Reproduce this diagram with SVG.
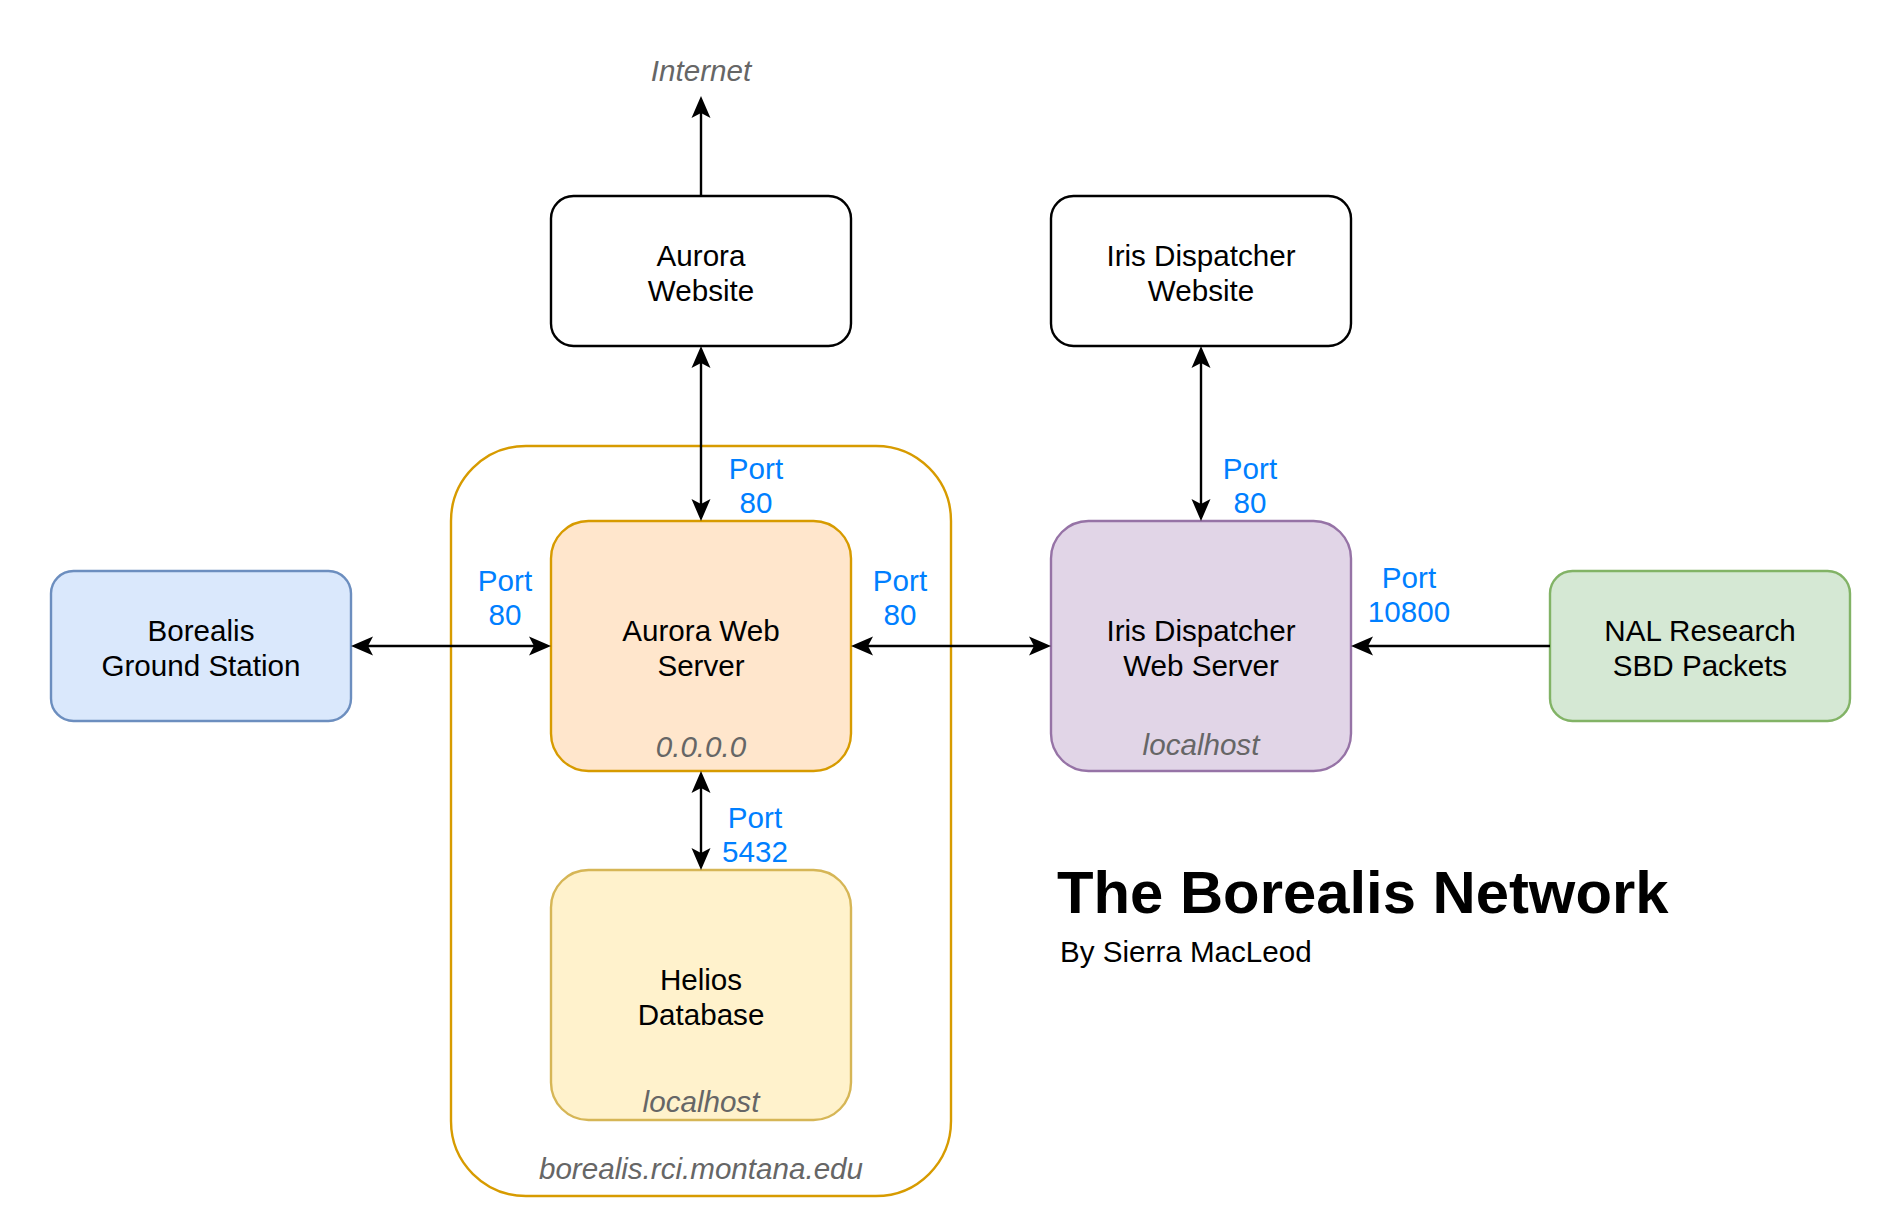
<svg xmlns="http://www.w3.org/2000/svg" width="1887" height="1227" viewBox="0 0 1887 1227">
  <style>
    text { font-family: "Liberation Sans", Arial, Helvetica, sans-serif; font-size: 29.6px; text-anchor: middle; fill: #000000; }
    .sub { font-style: italic; fill: #666666; }
    .port { fill: #007FFF; }
    .conn { fill: none; stroke: #000000; stroke-width: 2.4; }
    .box { stroke-width: 2.4; }
    .title { font-size: 59.8px; font-weight: bold; text-anchor: start; }
    .by { text-anchor: start; }
  </style>
  <defs>
    <marker id="arr" markerUnits="userSpaceOnUse" viewBox="-6 -11 25 22" markerWidth="25" markerHeight="22" refX="0" refY="0" orient="auto-start-reverse">
      <path d="M17,0 L-5,-9.5 L0,0 L-5,9.5 Z" fill="#000000"/>
    </marker>
  </defs>
  <rect width="1887" height="1227" fill="#ffffff"/>

  <g id="container-borealis-host">
    <rect x="451" y="446" width="500" height="750" rx="75" ry="75" fill="none" stroke="#d79b00" stroke-width="2.4"/>
    <text class="sub" x="701" y="1179">borealis.rci.montana.edu</text>
  </g>

  <g id="internet">
    <text class="sub" x="701" y="81">Internet</text>
  </g>

  <g id="aurora-website">
    <rect class="box" x="551" y="196" width="300" height="150" rx="22.5" ry="22.5" fill="#ffffff" stroke="#000000"/>
    <text x="701" y="266">Aurora</text>
    <text x="701" y="301">Website</text>
  </g>

  <g id="iris-website">
    <rect class="box" x="1051" y="196" width="300" height="150" rx="22.5" ry="22.5" fill="#ffffff" stroke="#000000"/>
    <text x="1201" y="266">Iris Dispatcher</text>
    <text x="1201" y="301">Website</text>
  </g>

  <g id="borealis-ground-station">
    <rect class="box" x="51" y="571" width="300" height="150" rx="22.5" ry="22.5" fill="#dae8fc" stroke="#6c8ebf"/>
    <text x="201" y="641">Borealis</text>
    <text x="201" y="676">Ground Station</text>
  </g>

  <g id="aurora-web-server">
    <rect class="box" x="551" y="521" width="300" height="250" rx="37.5" ry="37.5" fill="#ffe6cc" stroke="#d79b00"/>
    <text x="701" y="641">Aurora Web</text>
    <text x="701" y="676">Server</text>
    <text class="sub" x="701" y="757">0.0.0.0</text>
  </g>

  <g id="iris-web-server">
    <rect class="box" x="1051" y="521" width="300" height="250" rx="37.5" ry="37.5" fill="#e1d5e7" stroke="#9673a6"/>
    <text x="1201" y="641">Iris Dispatcher</text>
    <text x="1201" y="676">Web Server</text>
    <text class="sub" x="1201" y="755">localhost</text>
  </g>

  <g id="nal-research">
    <rect class="box" x="1550" y="571" width="300" height="150" rx="22.5" ry="22.5" fill="#d5e8d4" stroke="#82b366"/>
    <text x="1700" y="641">NAL Research</text>
    <text x="1700" y="676">SBD Packets</text>
  </g>

  <g id="helios-database">
    <rect class="box" x="551" y="870" width="300" height="250" rx="37.5" ry="37.5" fill="#fff2cc" stroke="#d6b656"/>
    <text x="701" y="990">Helios</text>
    <text x="701" y="1025">Database</text>
    <text class="sub" x="701" y="1112">localhost</text>
  </g>

  <g id="connectors">
    <path class="conn" d="M701,196 V113" marker-end="url(#arr)"/>
    <path class="conn" d="M701,363 V504" marker-start="url(#arr)" marker-end="url(#arr)"/>
    <path class="conn" d="M1201,363 V504" marker-start="url(#arr)" marker-end="url(#arr)"/>
    <path class="conn" d="M368,646 H534" marker-start="url(#arr)" marker-end="url(#arr)"/>
    <path class="conn" d="M868,646 H1034" marker-start="url(#arr)" marker-end="url(#arr)"/>
    <path class="conn" d="M1550,646 H1368" marker-end="url(#arr)"/>
    <path class="conn" d="M701,788 V853" marker-start="url(#arr)" marker-end="url(#arr)"/>
  </g>

  <g id="connector-labels">
    <text class="port" x="756" y="479">Port</text>
    <text class="port" x="756" y="513">80</text>
    <text class="port" x="1250" y="479">Port</text>
    <text class="port" x="1250" y="513">80</text>
    <text class="port" x="505" y="591">Port</text>
    <text class="port" x="505" y="625">80</text>
    <text class="port" x="900" y="591">Port</text>
    <text class="port" x="900" y="625">80</text>
    <text class="port" x="1409" y="588">Port</text>
    <text class="port" x="1409" y="622">10800</text>
    <text class="port" x="755" y="828">Port</text>
    <text class="port" x="755" y="862">5432</text>
  </g>

  <g id="title">
    <text class="title" x="1057" y="913">The Borealis Network</text>
    <text class="by" x="1060" y="962">By Sierra MacLeod</text>
  </g>
</svg>
